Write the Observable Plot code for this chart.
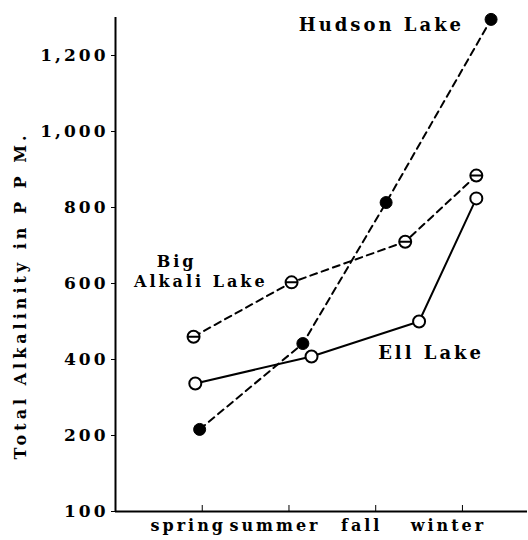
<!DOCTYPE html>
<html>
<head>
<meta charset="utf-8">
<script src="https://cdn.jsdelivr.net/npm/d3@7"></script>
<script src="https://cdn.jsdelivr.net/npm/@observablehq/plot@0.6"></script>
<style>
  body { margin: 0; background: white; }
  g[aria-label="text"].ytitle text { letter-spacing: 4px; }
</style>
</head>
<body>
<div id="chart"></div>
<script>
// ---- data ----
const seasons = ["spring", "summer", "fall", "winter"];
const seasonTicks = [1, 2, 3, 4];
const yTicks = [100, 200, 400, 600, 800, 1000, 1200];

const lakeNames = ["Big Alkali Lake", "Ell Lake", "Hudson Lake"];
// sample position along the season axis (1 = spring ... 4 = winter)
const bigAlkaliX = [0.90, 2.03, 3.34, 4.16];
const bigAlkaliY = [460, 603, 710, 884];
const ellX = [0.92, 2.26, 3.50, 4.16];
const ellY = [337, 408, 500, 824];
const hudsonX = [0.97, 2.16, 3.12, 4.33];
const hudsonY = [216, 442, 813, 1295];

const yTitle = "Total Alkalinity in P P M.";

const rows = (lake, xs, ys) => xs.map((x, i) => ({lake, season: seasons[i], x, y: ys[i]}));
const big = rows(lakeNames[0], bigAlkaliX, bigAlkaliY);
const ell = rows(lakeNames[1], ellX, ellY);
const hudson = rows(lakeNames[2], hudsonX, hudsonY);

// circle with a horizontal bar (theta) symbol
const theta = {
  draw(ctx, size) {
    const r = Math.sqrt(size / Math.PI);
    ctx.moveTo(r, 0);
    ctx.arc(0, 0, r, 0, 2 * Math.PI);
    ctx.moveTo(-r, 0);
    ctx.lineTo(r, 0);
  }
};

const dash = "7,5";

const chart = Plot.plot({
  width: 528,
  height: 540,
  marginLeft: 115,
  marginRight: 1,
  marginTop: 17,
  marginBottom: 29,
  style: {
    fontFamily: "'DejaVu Serif', serif",
    fontWeight: "bold",
    letterSpacing: "3px",
    background: "white",
    color: "black"
  },
  x: {domain: [0, 4.75], label: null},
  y: {type: "linear", domain: [100, 200, 1300], range: [511, 435, 17], label: null},
  marks: [
    // axis lines
    Plot.ruleX([0], {strokeWidth: 2}),
    Plot.ruleY([100], {strokeWidth: 2}),
    // y axis
    Plot.axisY(yTicks, {tickFormat: d3.format(","), tickSize: 4, tickPadding: 3, fontSize: 17, label: null}),
    // x axis ticks (pointing inward) and labels
    Plot.axisX(seasonTicks, {tickSize: -6, tickFormat: () => "", label: null}),
    Plot.axisX(seasonTicks, {tickSize: 0, tickPadding: 8, dx: -14, fontSize: 16, tickFormat: d => seasons[d - 1], label: null}),
    // y title
    Plot.text([yTitle], {text: d => d, frameAnchor: "left", textAnchor: "middle", rotate: -90, dx: -95, dy: 31, fontSize: 16, className: "ytitle"}),
    // lines
    Plot.line(big, {x: "x", y: "y", stroke: "black", strokeWidth: 2, strokeDasharray: dash}),
    Plot.line(hudson, {x: "x", y: "y", stroke: "black", strokeWidth: 2, strokeDasharray: dash}),
    Plot.line(ell, {x: "x", y: "y", stroke: "black", strokeWidth: 2}),
    // points
    Plot.dot(big, {x: "x", y: "y", r: 6, symbol: theta, fill: "white", stroke: "black", strokeWidth: 2}),
    Plot.dot(ell, {x: "x", y: "y", r: 6, fill: "white", stroke: "black", strokeWidth: 2}),
    Plot.dot(hudson, {x: "x", y: "y", r: 6, fill: "black", stroke: "black", strokeWidth: 1}),
    // series labels
    Plot.text(hudson, {filter: d => d.season === "winter", x: "x", y: "y", text: "lake", textAnchor: "end", dx: -27, dy: 6, fontSize: 18}),
    Plot.text(big, {filter: d => d.season === "summer", x: "x", y: "y", text: d => d.lake.split(" ")[0], textAnchor: "middle", dx: -115, dy: -20, fontSize: 16}),
    Plot.text(big, {filter: d => d.season === "summer", x: "x", y: "y", text: d => d.lake.split(" ").slice(1).join(" "), textAnchor: "end", dx: -24, dy: 0, fontSize: 16}),
    Plot.text(ell, {filter: d => d.season === "fall", x: "x", y: "y", text: "lake", textAnchor: "middle", dx: 12, dy: 32, fontSize: 18})
  ]
});

document.getElementById("chart").appendChild(chart);
</script>
</body>
</html>
